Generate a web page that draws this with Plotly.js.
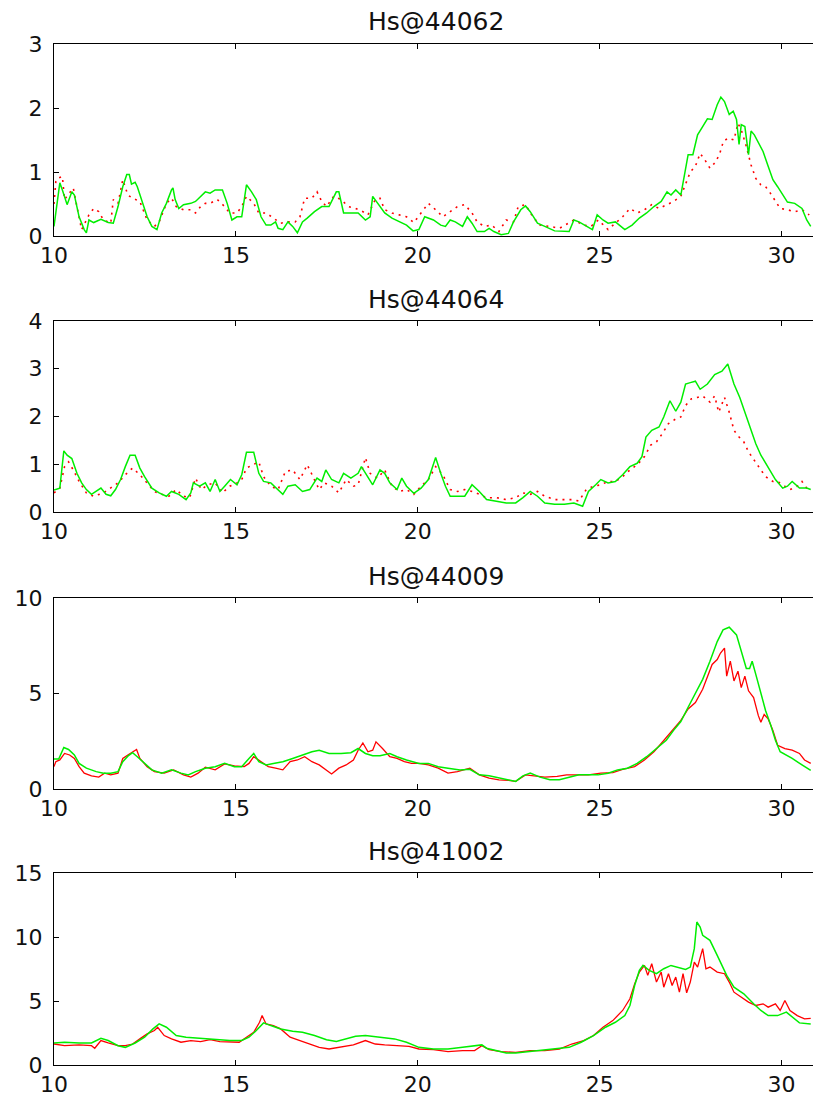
<!DOCTYPE html>
<html><head><meta charset="utf-8">
<script src="https://cdn.plot.ly/plotly-3.0.1.min.js"></script>
<style>html,body{margin:0;padding:0;overflow:hidden;background:#fff}#chart{width:820px;height:1099px}</style>
</head><body><div id="chart"></div>
<script>
const titles = ['Hs@44062', 'Hs@44064', 'Hs@44009', 'Hs@41002'];
const yMax = [3, 4, 10, 15];
const yStep = [1, 1, 5, 5];
const xTicks = [10, 15, 20, 25, 30];

const model44062 = [[10.0,0.15],[10.16,0.83],[10.23,0.72],[10.36,0.49],[10.49,0.69],[10.56,0.64],[10.69,0.30],[10.83,0.10],[10.89,0.05],[10.96,0.25],[11.09,0.21],[11.29,0.26],[11.49,0.21],[11.63,0.20],[11.76,0.46],[11.89,0.77],[12.0,0.96],[12.07,0.96],[12.13,0.81],[12.23,0.84],[12.29,0.77],[12.43,0.51],[12.56,0.30],[12.69,0.15],[12.83,0.10],[12.96,0.36],[13.09,0.51],[13.23,0.72],[13.27,0.75],[13.33,0.57],[13.43,0.43],[13.56,0.49],[13.76,0.51],[13.89,0.54],[14.03,0.62],[14.16,0.69],[14.29,0.67],[14.43,0.72],[14.63,0.72],[14.76,0.51],[14.89,0.25],[15.03,0.30],[15.16,0.30],[15.29,0.80],[15.43,0.69],[15.56,0.57],[15.69,0.30],[15.83,0.17],[15.96,0.17],[16.09,0.22],[16.16,0.12],[16.29,0.10],[16.43,0.22],[16.56,0.15],[16.69,0.05],[16.83,0.22],[16.96,0.28],[17.16,0.38],[17.36,0.46],[17.56,0.46],[17.76,0.69],[17.83,0.69],[17.96,0.36],[18.16,0.36],[18.36,0.36],[18.56,0.25],[18.69,0.30],[18.76,0.62],[18.89,0.51],[19.09,0.36],[19.29,0.28],[19.49,0.22],[19.69,0.17],[19.87,0.08],[20.03,0.10],[20.19,0.30],[20.43,0.25],[20.63,0.17],[20.76,0.15],[20.89,0.25],[21.03,0.22],[21.23,0.15],[21.36,0.30],[21.49,0.20],[21.63,0.07],[21.83,0.07],[21.96,0.12],[22.09,0.07],[22.29,0.02],[22.49,0.04],[22.63,0.22],[22.83,0.41],[22.96,0.47],[23.09,0.38],[23.29,0.20],[23.49,0.15],[23.76,0.08],[24.16,0.07],[24.29,0.25],[24.43,0.22],[24.63,0.15],[24.8,0.10],[24.93,0.33],[25.09,0.25],[25.23,0.20],[25.43,0.22],[25.69,0.10],[25.89,0.17],[26.09,0.28],[26.29,0.36],[26.49,0.46],[26.69,0.54],[26.85,0.69],[26.96,0.64],[27.09,0.72],[27.23,0.64],[27.29,0.83],[27.43,1.27],[27.56,1.27],[27.69,1.58],[27.83,1.71],[27.96,1.83],[28.09,1.82],[28.23,2.05],[28.33,2.17],[28.43,2.10],[28.56,1.90],[28.67,1.95],[28.76,1.82],[28.83,1.43],[28.89,1.74],[28.99,1.71],[29.09,1.27],[29.16,1.64],[29.25,1.58],[29.36,1.45],[29.49,1.32],[29.63,1.09],[29.76,0.88],[29.89,0.77],[30.03,0.64],[30.16,0.53],[30.36,0.51],[30.56,0.43],[30.69,0.25],[30.8,0.15]];
const buoy44062 = [[10.0,0.50],[10.05,0.85],[10.09,0.90],[10.23,0.93],[10.29,0.57],[10.43,0.67],[10.53,0.75],[10.63,0.46],[10.76,0.10],[10.96,0.33],[11.09,0.43],[11.23,0.38],[11.36,0.25],[11.56,0.20],[11.63,0.57],[11.76,0.51],[11.89,0.88],[12.03,0.64],[12.16,0.59],[12.36,0.54],[12.56,0.25],[12.76,0.15],[12.89,0.22],[13.09,0.51],[13.23,0.59],[13.36,0.46],[13.56,0.41],[13.76,0.41],[13.89,0.36],[14.03,0.46],[14.16,0.51],[14.29,0.51],[14.49,0.57],[14.69,0.46],[14.83,0.36],[15.03,0.36],[15.16,0.46],[15.29,0.62],[15.49,0.51],[15.63,0.36],[15.83,0.36],[16.03,0.28],[16.23,0.20],[16.43,0.22],[16.63,0.22],[16.76,0.30],[16.89,0.59],[17.09,0.59],[17.23,0.69],[17.36,0.54],[17.49,0.46],[17.69,0.62],[17.89,0.57],[18.09,0.46],[18.29,0.43],[18.49,0.38],[18.63,0.33],[18.83,0.57],[18.96,0.59],[19.09,0.41],[19.29,0.36],[19.49,0.33],[19.69,0.30],[19.89,0.21],[20.09,0.36],[20.29,0.51],[20.49,0.41],[20.69,0.30],[20.89,0.38],[21.09,0.46],[21.29,0.49],[21.49,0.36],[21.63,0.22],[21.83,0.15],[22.03,0.17],[22.23,0.07],[22.43,0.25],[22.63,0.22],[22.76,0.46],[22.96,0.49],[23.16,0.30],[23.36,0.17],[23.63,0.15],[23.89,0.12],[24.29,0.25],[24.56,0.17],[24.76,0.15],[24.96,0.25],[25.23,0.10],[25.43,0.20],[25.63,0.30],[25.83,0.43],[26.03,0.36],[26.23,0.41],[26.43,0.49],[26.63,0.43],[26.83,0.49],[27.03,0.54],[27.23,0.62],[27.36,0.80],[27.49,1.00],[27.63,1.09],[27.76,1.29],[27.89,1.19],[28.03,1.06],[28.16,1.14],[28.29,1.27],[28.4,1.48],[28.53,1.53],[28.69,1.50],[28.8,1.76],[28.89,1.66],[29.03,1.40],[29.16,1.11],[29.29,0.90],[29.43,0.80],[29.56,0.77],[29.69,0.67],[29.83,0.54],[29.96,0.43],[30.16,0.41],[30.36,0.38],[30.56,0.41],[30.76,0.33]];

const model44064 = [[10.0,0.46],[10.16,0.50],[10.27,1.28],[10.36,1.19],[10.49,1.12],[10.63,0.81],[10.76,0.61],[10.89,0.47],[11.03,0.37],[11.16,0.43],[11.29,0.50],[11.43,0.37],[11.56,0.34],[11.69,0.47],[11.83,0.68],[11.96,0.95],[12.09,1.19],[12.23,1.19],[12.36,0.92],[12.49,0.74],[12.69,0.50],[12.89,0.40],[13.09,0.33],[13.23,0.43],[13.43,0.37],[13.63,0.26],[13.76,0.40],[13.83,0.61],[14.0,0.54],[14.16,0.61],[14.29,0.43],[14.43,0.68],[14.56,0.43],[14.69,0.54],[14.85,0.68],[15.03,0.57],[15.16,0.78],[15.29,1.25],[15.49,1.25],[15.63,0.81],[15.76,0.64],[15.96,0.61],[16.16,0.47],[16.29,0.37],[16.43,0.54],[16.63,0.57],[16.83,0.43],[17.03,0.47],[17.23,0.71],[17.36,0.64],[17.47,0.88],[17.63,0.68],[17.83,0.61],[17.96,0.81],[18.16,0.71],[18.36,0.81],[18.45,0.95],[18.63,0.74],[18.76,0.57],[18.96,0.88],[19.09,0.81],[19.23,0.61],[19.43,0.47],[19.56,0.71],[19.69,0.54],[19.89,0.39],[20.09,0.50],[20.29,0.68],[20.43,1.02],[20.49,1.14],[20.63,0.81],[20.76,0.54],[20.89,0.33],[21.09,0.33],[21.29,0.33],[21.49,0.57],[21.69,0.43],[21.89,0.26],[22.16,0.23],[22.43,0.19],[22.69,0.19],[22.89,0.30],[23.09,0.43],[23.29,0.33],[23.49,0.19],[23.76,0.16],[24.03,0.16],[24.29,0.19],[24.53,0.12],[24.69,0.43],[24.89,0.57],[25.03,0.68],[25.23,0.61],[25.43,0.64],[25.63,0.78],[25.83,0.95],[26.03,1.02],[26.16,1.16],[26.27,1.57],[26.43,1.71],[26.63,1.78],[26.76,1.99],[26.93,2.33],[27.09,2.11],[27.23,2.30],[27.36,2.68],[27.49,2.71],[27.63,2.74],[27.76,2.57],[27.96,2.68],[28.16,2.88],[28.36,2.95],[28.52,3.10],[28.69,2.68],[28.85,2.40],[29.03,1.99],[29.16,1.68],[29.29,1.43],[29.43,1.19],[29.63,0.92],[29.83,0.68],[30.03,0.50],[30.16,0.54],[30.29,0.64],[30.49,0.50],[30.69,0.50],[30.8,0.47]];
const buoy44064 = [[10.0,0.40],[10.16,0.50],[10.29,0.95],[10.4,1.05],[10.53,0.88],[10.69,0.64],[10.89,0.40],[11.09,0.33],[11.36,0.40],[11.56,0.50],[11.76,0.61],[11.96,0.78],[12.16,0.92],[12.36,0.78],[12.56,0.61],[12.76,0.43],[12.96,0.37],[13.16,0.33],[13.36,0.47],[13.56,0.33],[13.73,0.30],[13.89,0.71],[14.05,0.47],[14.23,0.57],[14.43,0.61],[14.63,0.40],[14.83,0.54],[15.03,0.61],[15.16,0.68],[15.29,0.92],[15.47,0.99],[15.63,1.05],[15.76,0.74],[15.96,0.54],[16.16,0.47],[16.36,0.85],[16.56,0.88],[16.76,0.68],[16.96,0.99],[17.16,0.68],[17.29,0.47],[17.43,0.61],[17.63,0.54],[17.83,0.40],[18.03,0.68],[18.23,0.54],[18.36,0.57],[18.56,1.14],[18.69,0.81],[18.89,0.71],[19.09,0.88],[19.29,0.54],[19.49,0.43],[19.69,0.47],[19.89,0.37],[20.09,0.54],[20.29,0.68],[20.49,0.95],[20.69,0.78],[20.89,0.47],[21.09,0.43],[21.29,0.47],[21.49,0.43],[21.69,0.37],[21.89,0.30],[22.16,0.30],[22.43,0.26],[22.69,0.30],[22.89,0.40],[23.09,0.37],[23.29,0.43],[23.49,0.33],[23.76,0.26],[24.03,0.26],[24.23,0.26],[24.43,0.23],[24.63,0.47],[24.83,0.54],[25.03,0.57],[25.23,0.64],[25.43,0.64],[25.63,0.74],[25.83,0.88],[26.03,0.99],[26.23,1.16],[26.4,1.40],[26.56,1.47],[26.72,1.64],[26.89,1.85],[27.09,1.95],[27.23,1.99],[27.36,2.23],[27.52,2.37],[27.69,2.40],[27.83,2.43],[28.03,2.30],[28.16,2.43],[28.27,2.09],[28.43,2.40],[28.56,2.09],[28.69,1.71],[28.83,1.57],[28.96,1.47],[29.09,1.26],[29.29,1.02],[29.43,0.88],[29.56,0.74],[29.76,0.64],[29.89,0.64],[30.03,0.57],[30.23,0.47],[30.43,0.54],[30.56,0.64],[30.69,0.50],[30.8,0.48]];

const model44009 = [[10.0,1.57],[10.13,1.57],[10.27,2.17],[10.4,2.07],[10.56,1.78],[10.69,1.34],[10.89,1.09],[11.16,0.91],[11.36,0.83],[11.56,0.83],[11.76,0.91],[11.89,1.43],[12.03,1.72],[12.16,1.90],[12.29,1.69],[12.49,1.34],[12.69,1.00],[12.96,0.83],[13.23,1.00],[13.49,0.83],[13.69,0.74],[13.89,0.91],[14.16,1.09],[14.43,1.17],[14.69,1.34],[14.96,1.17],[15.16,1.17],[15.36,1.60],[15.49,1.86],[15.63,1.43],[15.83,1.26],[16.03,1.34],[16.29,1.43],[16.56,1.60],[16.83,1.78],[17.09,1.95],[17.29,2.03],[17.56,1.86],[17.89,1.86],[18.16,1.90],[18.36,2.12],[18.56,1.86],[18.76,1.74],[18.96,1.74],[19.23,1.86],[19.43,1.69],[19.69,1.52],[20.03,1.34],[20.29,1.34],[20.56,1.17],[20.83,1.09],[21.16,1.00],[21.43,1.03],[21.69,0.74],[21.96,0.69],[22.23,0.57],[22.49,0.48],[22.69,0.40],[22.89,0.69],[23.09,0.83],[23.36,0.62],[23.63,0.48],[23.89,0.48],[24.16,0.62],[24.43,0.74],[24.69,0.74],[24.96,0.74],[25.23,0.83],[25.49,1.00],[25.76,1.09],[26.03,1.34],[26.29,1.69],[26.56,2.12],[26.83,2.55],[27.03,3.07],[27.23,3.53],[27.43,4.28],[27.63,4.97],[27.83,5.74],[28.03,6.69],[28.23,7.72],[28.39,8.33],[28.56,8.47],[28.76,8.07],[28.89,7.21],[29.03,6.31],[29.12,6.31],[29.19,6.69],[29.29,6.00],[29.43,4.97],[29.56,4.10],[29.69,3.41],[29.83,2.55],[29.96,1.95],[30.29,1.60],[30.56,1.26],[30.8,0.97]];
const buoy44009 = [[10.0,1.17],[10.05,1.43],[10.16,1.52],[10.29,1.86],[10.43,1.78],[10.56,1.60],[10.69,1.17],[10.83,0.83],[11.03,0.69],[11.23,0.62],[11.39,0.83],[11.56,0.74],[11.76,0.83],[11.89,1.60],[12.03,1.78],[12.16,1.95],[12.27,2.07],[12.36,1.60],[12.56,1.17],[12.76,0.91],[13.03,0.83],[13.29,1.00],[13.56,0.74],[13.76,0.62],[13.96,0.83],[14.16,1.14],[14.43,1.00],[14.69,1.31],[14.96,1.21],[15.23,1.17],[15.36,1.34],[15.49,1.69],[15.69,1.43],[15.89,1.17],[16.09,1.09],[16.29,1.00],[16.49,1.43],[16.69,1.52],[16.89,1.69],[17.09,1.43],[17.29,1.26],[17.49,1.00],[17.63,0.79],[17.83,1.09],[18.03,1.26],[18.23,1.52],[18.36,2.03],[18.49,2.41],[18.63,1.95],[18.76,2.03],[18.85,2.47],[19.03,2.12],[19.23,1.69],[19.43,1.60],[19.63,1.43],[19.83,1.34],[20.03,1.34],[20.29,1.26],[20.56,1.09],[20.83,0.83],[21.09,0.91],[21.43,1.09],[21.69,0.74],[21.96,0.57],[22.23,0.48],[22.49,0.45],[22.69,0.40],[22.96,0.74],[23.23,0.69],[23.49,0.62],[23.83,0.66],[24.09,0.74],[24.43,0.74],[24.69,0.74],[25.03,0.83],[25.36,0.86],[25.63,1.03],[25.96,1.17],[26.23,1.52],[26.49,1.95],[26.69,2.38],[26.96,2.98],[27.23,3.59],[27.43,4.19],[27.63,4.53],[27.83,5.22],[27.96,5.83],[28.09,6.52],[28.23,6.78],[28.32,7.12],[28.43,7.38],[28.49,5.91],[28.59,6.69],[28.69,5.66],[28.8,6.17],[28.89,5.31],[28.99,5.91],[29.09,5.14],[29.23,4.79],[29.36,3.84],[29.43,3.50],[29.52,3.90],[29.63,3.67],[29.76,3.07],[29.89,2.29],[30.09,2.12],[30.29,2.03],[30.49,1.86],[30.63,1.52],[30.8,1.34]];

const model41002 = [[10.0,1.72],[10.29,1.78],[10.69,1.72],[11.03,1.72],[11.29,2.09],[11.49,1.91],[11.76,1.51],[11.96,1.38],[12.23,1.72],[12.49,2.17],[12.72,2.82],[12.89,3.21],[13.09,2.95],[13.36,2.30],[13.63,2.17],[14.03,2.09],[14.43,1.98],[14.83,1.91],[15.16,1.91],[15.36,2.17],[15.56,2.69],[15.76,3.29],[15.96,3.08],[16.23,2.82],[16.56,2.64],[16.83,2.56],[17.16,2.30],[17.49,1.98],[17.76,1.83],[18.03,2.04],[18.29,2.25],[18.56,2.30],[18.96,2.17],[19.36,2.04],[19.69,1.78],[20.03,1.38],[20.43,1.25],[20.83,1.25],[21.23,1.38],[21.63,1.51],[21.76,1.57],[21.89,1.31],[22.16,1.12],[22.43,0.94],[22.69,0.94],[23.03,1.04],[23.36,1.12],[23.76,1.25],[24.16,1.38],[24.49,1.78],[24.83,2.30],[25.16,2.95],[25.43,3.34],[25.69,3.86],[25.83,4.65],[25.96,6.21],[26.09,7.39],[26.19,7.78],[26.36,7.39],[26.56,7.13],[26.76,7.52],[26.96,7.78],[27.16,7.65],[27.36,7.47],[27.49,7.65],[27.6,9.09],[27.67,11.17],[27.76,10.78],[27.83,10.13],[28.03,9.74],[28.23,8.56],[28.49,7.00],[28.69,6.08],[28.96,5.56],[29.23,4.78],[29.43,4.26],[29.63,3.86],[29.89,3.86],[30.13,4.13],[30.29,3.73],[30.49,3.29],[30.8,3.21]];
const buoy41002 = [[10.0,1.64],[10.29,1.51],[10.69,1.57],[11.03,1.51],[11.12,1.31],[11.29,1.91],[11.49,1.72],[11.76,1.51],[11.96,1.51],[12.16,1.64],[12.36,2.04],[12.56,2.43],[12.76,2.69],[12.85,2.95],[13.03,2.30],[13.23,2.04],[13.49,1.78],[13.76,1.91],[14.03,1.83],[14.29,1.98],[14.56,1.83],[14.83,1.78],[15.09,1.78],[15.29,2.17],[15.49,2.56],[15.65,3.34],[15.72,3.86],[15.83,3.21],[16.03,3.08],[16.23,2.82],[16.49,2.17],[16.76,1.91],[17.03,1.64],[17.29,1.38],[17.56,1.25],[17.89,1.38],[18.23,1.57],[18.56,1.91],[18.83,1.64],[19.09,1.57],[19.43,1.51],[19.76,1.46],[20.03,1.25],[20.43,1.20],[20.83,1.04],[21.23,1.12],[21.56,1.12],[21.76,1.51],[21.96,1.20],[22.29,1.04],[22.69,0.99],[23.09,1.12],[23.49,1.12],[23.89,1.25],[24.23,1.64],[24.56,1.91],[24.83,2.30],[25.09,2.95],[25.36,3.47],[25.63,4.26],[25.83,5.17],[25.96,6.34],[26.09,7.26],[26.23,7.78],[26.32,7.00],[26.43,7.91],[26.56,6.48],[26.69,7.26],[26.76,6.08],[26.89,7.13],[26.99,6.21],[27.09,6.87],[27.19,5.69],[27.29,7.13],[27.39,5.64],[27.49,6.48],[27.6,8.04],[27.69,7.65],[27.83,9.09],[27.92,7.52],[28.03,7.65],[28.23,7.26],[28.43,7.13],[28.56,6.48],[28.69,5.69],[28.89,5.30],[29.09,4.91],[29.29,4.65],[29.49,4.78],[29.63,4.52],[29.83,4.78],[29.96,4.26],[30.09,5.04],[30.23,4.26],[30.43,3.86],[30.63,3.60],[30.8,3.65]];

const models = [model44062, model44064, model44009, model41002];
const buoys = [buoy44062, buoy44064, buoy44009, buoy41002];
const dotted = [true, true, false, false];

// panel pixel tops/bottoms (layout geometry)
const H = 1099;
const tops = [44, 321, 598, 873];
const bots = [236, 512, 789, 1065];

const traces = [];
const layout = {
  width: 820, height: H,
  margin: {l: 54, r: 2, t: 0, b: 0},
  paper_bgcolor: '#fff', plot_bgcolor: '#fff',
  showlegend: false,
  font: {family: 'DejaVu Sans', size: 22, color: '#111'},
  annotations: []
};
const tickFont = {family: 'DejaVu Sans', size: 22, color: '#111'};
for (let i = 0; i < 4; i++) {
  const n = i === 0 ? '' : String(i + 1);
  traces.push({
    x: buoys[i].map(p => p[0]), y: buoys[i].map(p => p[1]),
    type: 'scatter', mode: 'lines', xaxis: 'x' + n, yaxis: 'y' + n,
    line: {color: '#ff0000', width: dotted[i] ? 1.6 : 1.3, dash: dotted[i] ? '2px,5px' : 'solid'},
    hoverinfo: 'skip'
  });
  traces.push({
    x: models[i].map(p => p[0]), y: models[i].map(p => p[1]),
    type: 'scatter', mode: 'lines', xaxis: 'x' + n, yaxis: 'y' + n,
    line: {color: '#00ee00', width: 1.5},
    hoverinfo: 'skip'
  });
  const dom = [1 - bots[i] / H, 1 - tops[i] / H];
  layout['xaxis' + n] = {
    domain: [0, 1], anchor: 'y' + n, range: [10, 31],
    tickvals: xTicks, ticks: 'inside', ticklen: 5, tickwidth: 1, tickcolor: '#000',
    showline: true, linecolor: '#000', linewidth: 1, mirror: 'ticks',
    showgrid: false, zeroline: false, tickfont: tickFont, ticklabelstandoff: 0
  };
  const yt = [];
  for (let v = 0; v <= yMax[i]; v += yStep[i]) yt.push(v);
  layout['yaxis' + n] = {
    domain: dom, anchor: 'x' + n, range: [0, yMax[i]],
    tickvals: yt, ticks: 'inside', ticklen: 5, tickwidth: 1, tickcolor: '#000',
    showline: true, linecolor: '#000', linewidth: 1, mirror: 'ticks',
    showgrid: false, zeroline: false, tickfont: tickFont, ticklabelstandoff: 6
  };
  layout.annotations.push({
    text: titles[i], xref: 'paper', yref: 'paper', x: 0.5,
    y: 1 - (tops[i] - 22) / H, xanchor: 'center', yanchor: 'middle',
    showarrow: false, font: {family: 'DejaVu Sans', size: 25, color: '#111'}
  });
}
Plotly.newPlot('chart', traces, layout, {staticPlot: true, displayModeBar: false});
</script></body></html>
